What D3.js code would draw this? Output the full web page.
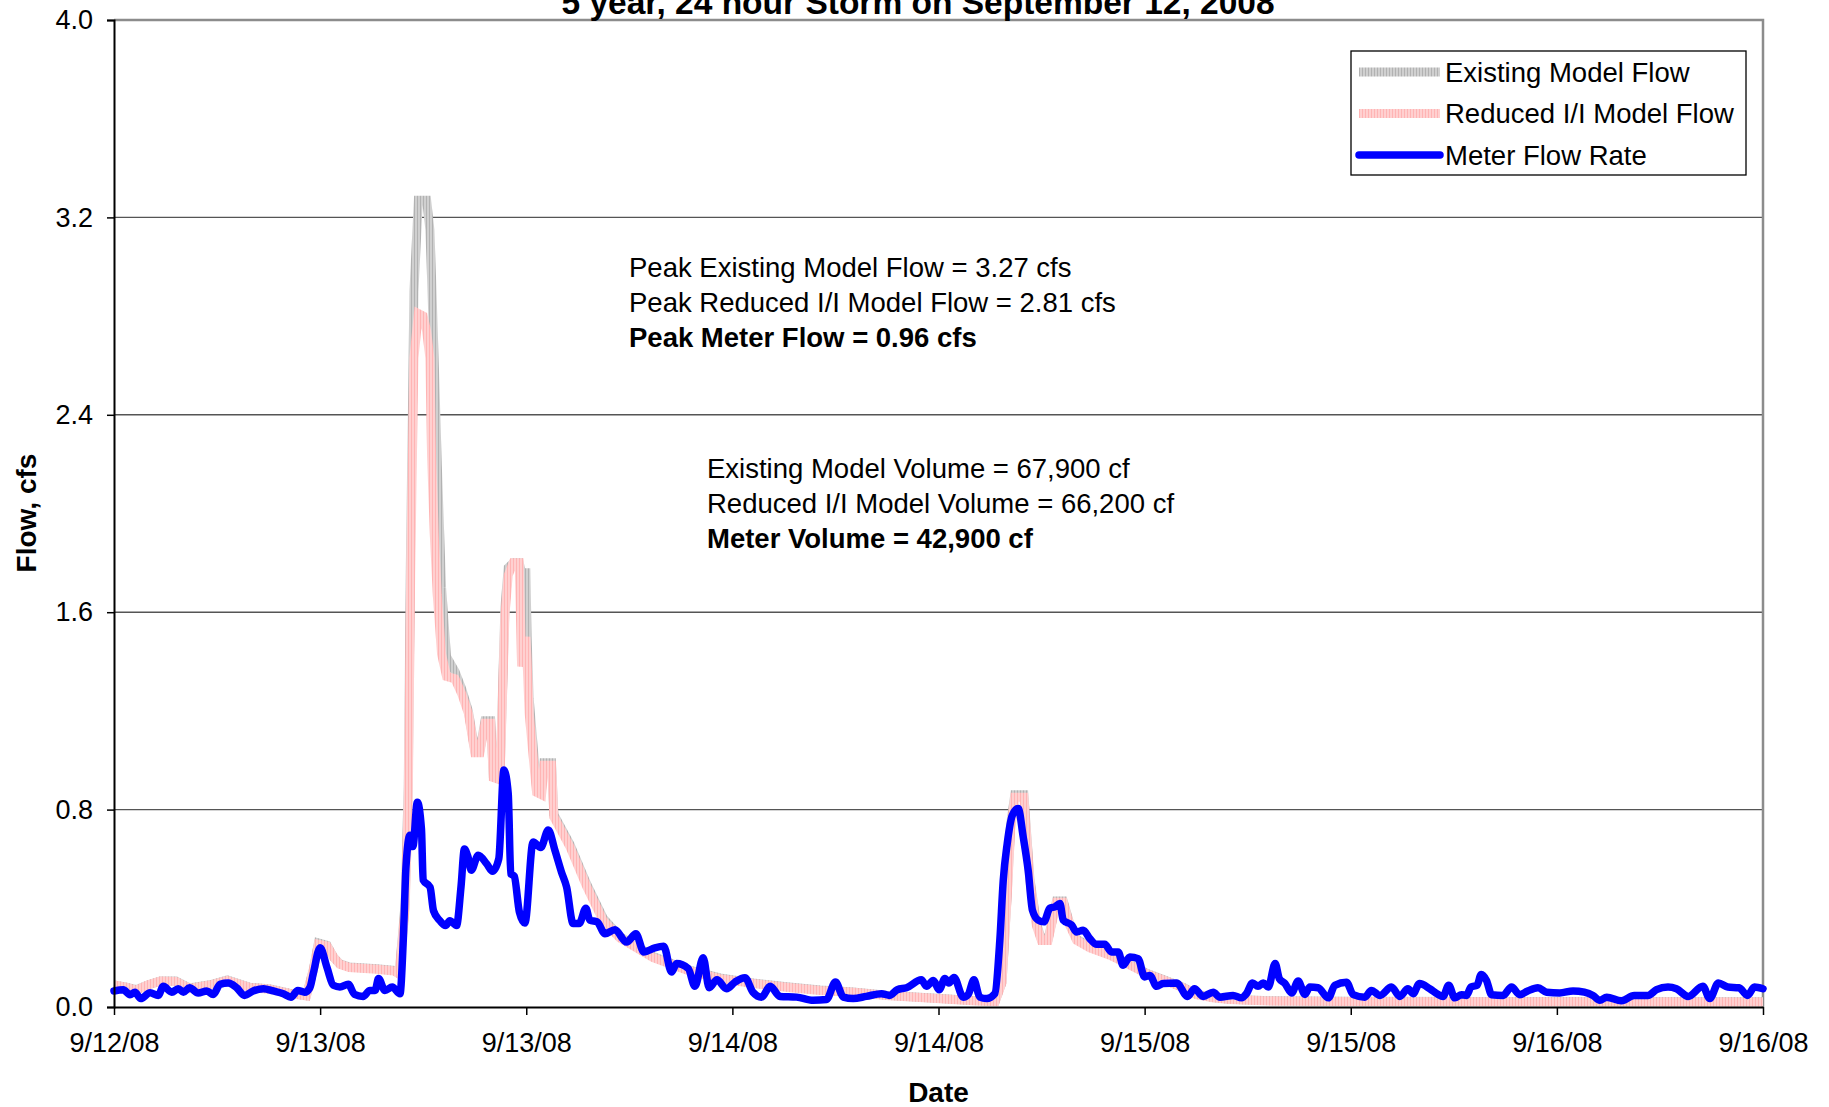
<!DOCTYPE html>
<html>
<head>
<meta charset="utf-8">
<script src="https://cdn.jsdelivr.net/npm/d3@7"></script>
<style>
  body { margin: 0; background: #fff; }
</style>
</head>
<body>
<script>
const overallWidth = 1829
const overallHeight = 1107
const margin = { left: 114, top: 20, right: 66, bottom: 100 }
const width = overallWidth - margin.left - margin.right
const height = overallHeight - margin.top - margin.bottom

// hours after 9/12/08 12:00
const start = new Date(2008, 8, 12, 12)
const spanHours = 96
const yTicks = [0, 0.8, 1.6, 2.4, 3.2, 4.0]

const modelHours = [0, 0.7, 1.3, 2.0, 2.7, 3.6, 4.4, 5.6, 6.6, 7.9, 9.1, 10.2, 11.2, 11.6, 11.9, 12.4, 12.8, 13.15, 13.7, 15.3, 16.3, 16.6, 16.95,
  17.13, 17.27, 17.39, 17.46, 17.72, 18.0, 18.2, 18.39, 18.49, 18.65, 18.82, 19.07, 19.36, 19.85, 20.24, 20.63, 21.01, 21.3, 21.6, 21.93,
  22.08, 22.47, 22.76, 22.95, 23.24, 23.59, 23.73, 23.98, 24.05, 24.17, 24.41, 24.6, 24.89, 25.03, 25.47, 25.61, 26.54, 27.51, 28.48,
  29.45, 31.39, 33.33, 35.27, 37.21, 39.15, 41.1, 43.03, 44.97, 47.88, 50.0, 51.3, 51.7, 52.0, 52.2, 52.44, 52.97, 53.32, 53.7, 53.99,
  54.38, 54.87, 55.26, 55.65, 56.04, 56.81, 57.98, 59.14, 60.11, 61.08, 62.25, 63.02, 63.99, 64.96, 66.9, 71.75, 80, 96]

const reducedFlow = [0.089, 0.08, 0.068, 0.09, 0.105, 0.103, 0.075, 0.089, 0.108, 0.079, 0.072, 0.055, 0.045, 0.15, 0.254, 0.247, 0.2, 0.173, 0.16, 0.153, 0.146, 0.133, 0.4,
  0.84, 1.75, 2.31, 2.63, 2.81, 2.80, 2.74, 2.63, 2.23, 1.91, 1.67, 1.43, 1.34, 1.33, 1.27, 1.19, 1.03, 1.03, 1.15, 1.15,
  0.93, 0.92, 1.59, 1.75, 1.80, 1.80, 1.38, 1.5, 1.4, 1.19, 1.01, 0.87, 0.86, 0.98, 0.98, 0.77, 0.65, 0.49, 0.35,
  0.28, 0.20, 0.15, 0.115, 0.095, 0.08, 0.067, 0.06, 0.047, 0.034, 0.025, 0.022, 0.1, 0.45, 0.72, 0.85, 0.85, 0.51, 0.33, 0.27,
  0.27, 0.425, 0.425, 0.33, 0.27, 0.24, 0.21, 0.17, 0.135, 0.11, 0.078, 0.05, 0.037, 0.03, 0.025, 0.022, 0.021, 0.02]

const existingFlow = [0.09, 0.08, 0.07, 0.09, 0.105, 0.105, 0.077, 0.09, 0.11, 0.08, 0.073, 0.056, 0.046, 0.15, 0.26, 0.25, 0.2, 0.175, 0.162, 0.155, 0.148, 0.135, 0.42,
  0.9, 1.9, 2.5, 2.9, 3.27, 3.27, 3.27, 3.15, 2.95, 2.6, 2.2, 1.7, 1.42, 1.36, 1.29, 1.2, 1.04, 1.04, 1.16, 1.16,
  0.94, 0.93, 1.62, 1.78, 1.8, 1.8, 1.76, 1.76, 1.5, 1.25, 1.05, 0.89, 0.88, 0.99, 0.99, 0.78, 0.66, 0.5, 0.36,
  0.285, 0.205, 0.153, 0.118, 0.097, 0.082, 0.069, 0.061, 0.048, 0.035, 0.026, 0.023, 0.1, 0.46, 0.74, 0.86, 0.86, 0.52, 0.34, 0.275,
  0.275, 0.43, 0.43, 0.335, 0.275, 0.245, 0.213, 0.173, 0.137, 0.112, 0.08, 0.052, 0.038, 0.031, 0.026, 0.023, 0.022, 0.021]

// [hour, cfs]
const meterReadings = [[0.0, 0.065], [0.54, 0.07], [0.93, 0.05], [1.22, 0.06], [1.55, 0.034], [2.1, 0.058], [2.58, 0.047], [2.87, 0.084],
  [3.36, 0.06], [3.74, 0.074], [4.04, 0.06], [4.4, 0.078], [4.9, 0.057], [5.4, 0.065], [5.78, 0.051], [6.17, 0.092], [6.65, 0.097],
  [7.14, 0.078], [7.6, 0.047], [8.1, 0.065], [8.7, 0.074], [9.27, 0.065], [9.86, 0.054], [10.3, 0.04], [10.7, 0.067], [11.1, 0.06],
  [11.4, 0.078], [11.6, 0.135], [12.0, 0.24], [12.4, 0.16], [12.77, 0.088], [13.15, 0.081], [13.64, 0.092], [14.0, 0.051], [14.5, 0.043],
  [14.9, 0.067], [15.2, 0.067], [15.4, 0.115], [15.77, 0.067], [16.2, 0.081], [16.65, 0.054], [16.84, 0.27], [17.0, 0.57], [17.23, 0.696],
  [17.4, 0.65], [17.66, 0.83], [17.9, 0.72], [18.0, 0.514], [18.4, 0.486], [18.6, 0.39], [18.97, 0.35], [19.3, 0.33], [19.55, 0.35],
  [19.94, 0.33], [20.2, 0.486], [20.4, 0.64], [20.6, 0.61], [20.8, 0.554], [21.2, 0.615], [21.7, 0.58], [22.04, 0.55], [22.4, 0.6],
  [22.7, 0.96], [22.95, 0.865], [23.1, 0.54], [23.3, 0.53], [23.6, 0.385], [23.92, 0.34], [24.4, 0.669], [24.84, 0.646], [25.28, 0.717],
  [25.67, 0.635], [26.05, 0.547], [26.35, 0.486], [26.73, 0.338], [27.08, 0.338], [27.47, 0.4], [27.7, 0.352], [28.13, 0.345],
  [28.58, 0.297], [29.16, 0.313], [29.84, 0.263], [30.38, 0.297], [30.85, 0.223], [31.49, 0.24], [32.0, 0.246], [32.46, 0.142],
  [32.75, 0.176], [33.43, 0.156], [33.82, 0.084], [34.3, 0.2], [34.65, 0.078], [35.1, 0.11], [35.66, 0.074], [36.15, 0.101],
  [36.73, 0.119], [37.2, 0.06], [37.7, 0.04], [38.2, 0.084], [38.77, 0.043], [39.74, 0.04], [40.7, 0.027], [41.48, 0.03], [42.0, 0.101],
  [42.46, 0.04], [43.03, 0.034], [43.8, 0.043], [44.68, 0.054], [45.16, 0.047], [45.6, 0.07], [46.14, 0.078], [47.0, 0.11], [47.3, 0.084],
  [47.7, 0.107], [48.04, 0.07], [48.37, 0.115], [48.6, 0.097], [48.9, 0.12], [49.44, 0.04], [49.73, 0.051], [50.06, 0.11], [50.4, 0.04],
  [50.8, 0.034], [51.28, 0.054], [51.57, 0.27], [51.77, 0.514], [52.0, 0.662], [52.3, 0.777], [52.64, 0.804], [52.93, 0.69],
  [53.22, 0.554], [53.47, 0.392], [53.8, 0.352], [54.13, 0.345], [54.48, 0.4], [54.77, 0.406], [55.07, 0.419], [55.26, 0.352],
  [55.75, 0.332], [56.04, 0.304], [56.42, 0.311], [56.81, 0.277], [57.2, 0.254], [57.68, 0.254], [58.07, 0.223], [58.46, 0.223],
  [58.75, 0.169], [59.14, 0.203], [59.62, 0.196], [60.0, 0.122], [60.3, 0.128], [60.7, 0.084], [61.08, 0.095], [61.86, 0.097],
  [62.5, 0.043], [62.9, 0.074], [63.4, 0.043], [63.99, 0.06], [64.38, 0.04], [65.15, 0.047], [65.64, 0.037], [65.93, 0.054],
  [66.28, 0.097], [66.6, 0.084], [66.9, 0.097], [67.2, 0.081], [67.6, 0.176], [67.84, 0.115], [68.17, 0.095], [68.56, 0.057],
  [68.94, 0.105], [69.33, 0.051], [69.62, 0.081], [70.1, 0.078], [70.7, 0.037], [71.07, 0.088], [71.75, 0.1], [72.14, 0.05],
  [72.82, 0.04], [73.2, 0.067], [73.7, 0.047], [74.37, 0.081], [74.85, 0.043], [75.33, 0.074], [75.63, 0.054], [76.0, 0.095],
  [76.6, 0.074], [77.08, 0.051], [77.37, 0.043], [77.7, 0.088], [78.06, 0.037], [78.45, 0.05], [78.74, 0.047], [79.0, 0.081],
  [79.35, 0.088], [79.6, 0.132], [79.9, 0.108], [80.2, 0.05], [80.87, 0.047], [81.36, 0.081], [81.84, 0.05], [82.3, 0.065],
  [82.9, 0.078], [83.4, 0.06], [84.16, 0.057], [84.94, 0.065], [85.6, 0.06], [86.1, 0.047], [86.5, 0.027], [86.9, 0.04],
  [87.76, 0.025], [88.5, 0.047], [89.3, 0.047], [89.8, 0.07], [90.47, 0.081], [90.96, 0.074], [91.64, 0.043], [92.5, 0.084],
  [92.9, 0.034], [93.4, 0.097], [93.95, 0.081], [94.6, 0.078], [95.1, 0.047], [95.5, 0.081], [96.0, 0.074]]

const seriesNames = ['Existing Model Flow', 'Reduced I/I Model Flow', 'Meter Flow Rate']
const peakNotes = ['Peak Existing Model Flow = 3.27 cfs', 'Peak Reduced I/I Model Flow = 2.81 cfs', 'Peak Meter Flow = 0.96 cfs']
const volumeNotes = ['Existing Model Volume = 67,900 cf', 'Reduced I/I Model Volume = 66,200 cf', 'Meter Volume = 42,900 cf']

const toTime = h => new Date(start.getTime() + h * 3600e3)
const font = 'Liberation Sans, Arial, sans-serif'

const svg = d3.select('body').append('svg')
  .attr('width', overallWidth)
  .attr('height', overallHeight)
  .style('font-family', font)

const defs = svg.append('defs')
const hatch = (id, base, stripe) => {
  const p = defs.append('pattern')
    .attr('id', id)
    .attr('patternUnits', 'userSpaceOnUse')
    .attr('width', 3).attr('height', 3)
  p.append('rect').attr('width', 3).attr('height', 3).attr('fill', base)
  p.append('rect').attr('width', 1).attr('height', 3).attr('fill', stripe)
}
hatch('grayHatch', '#d0d0d0', '#b2b2b2')
hatch('pinkHatch', '#ffd0d0', '#ffb4b4')

const g = svg.append('g').attr('transform', `translate(${margin.left},${margin.top})`)

const x = d3.scaleTime().domain([start, toTime(spanHours)]).range([0, width])
const y = d3.scaleLinear().domain([0, 4]).range([height, 0])

// gridlines
g.append('g')
  .selectAll('line')
  .data(yTicks.filter(d => d > 0 && d < 4))
  .enter().append('line')
  .attr('x1', 0).attr('x2', width)
  .attr('y1', d => y(d)).attr('y2', d => y(d))
  .attr('stroke', '#555').attr('stroke-width', 1.4)

// plot frame, top and right
g.append('path')
  .attr('d', `M0,0H${width}V${height}`)
  .attr('fill', 'none')
  .attr('stroke', '#8c8c8c')
  .attr('stroke-width', 2.5)

const modelLine = vals => d3.line()
  .x((d, i) => x(toTime(d)))
  .y((d, i) => y(vals[i]))(modelHours)

g.append('path')
  .attr('d', modelLine(existingFlow))
  .attr('fill', 'none')
  .attr('stroke', 'url(#grayHatch)')
  .attr('stroke-width', 9)

g.append('path')
  .attr('d', modelLine(reducedFlow))
  .attr('fill', 'none')
  .attr('stroke', 'url(#pinkHatch)')
  .attr('stroke-width', 9)

const meterLine = d3.line()
  .x(d => x(toTime(d[0])))
  .y(d => y(d[1]))
  .curve(d3.curveMonotoneX)

g.append('path')
  .attr('d', meterLine(meterReadings))
  .attr('fill', 'none')
  .attr('stroke', '#0000ff')
  .attr('stroke-width', 7.5)
  .attr('stroke-linejoin', 'round')
  .attr('stroke-linecap', 'round')

// axes
g.append('g').attr('class', 'y axis')
  .call(d3.axisLeft(y).tickValues(yTicks).tickFormat(d3.format('.1f')).tickSize(7).tickPadding(14))
  .call(a => a.select('.domain').attr('stroke', '#000').attr('stroke-width', 2))
  .call(a => a.selectAll('.tick line').attr('stroke', '#000').attr('stroke-width', 1.5))
  .selectAll('text')
  .style('font-size', '27px')
  .style('font-family', font)
  .attr('fill', '#000')

g.append('g').attr('class', 'x axis')
  .attr('transform', `translate(0,${height})`)
  .call(d3.axisBottom(x).ticks(d3.timeHour.every(12)).tickFormat(d3.timeFormat('%-m/%-d/%y')).tickSize(8).tickSizeOuter(0).tickPadding(18))
  .call(a => a.select('.domain').attr('stroke', '#000').attr('stroke-width', 2))
  .call(a => a.selectAll('.tick line').attr('stroke', '#000').attr('stroke-width', 1.5))
  .selectAll('text')
  .style('font-size', '27px')
  .style('font-family', font)
  .attr('fill', '#000')

// titles
svg.append('text')
  .text('5 year, 24 hour Storm on September 12, 2008')
  .attr('x', 918).attr('y', 14)
  .style('text-anchor', 'middle')
  .style('font-weight', 'bold')
  .style('font-size', '33.5px')

svg.append('text')
  .text('Flow, cfs')
  .attr('transform', 'translate(26,513) rotate(-90)')
  .style('text-anchor', 'middle')
  .style('dominant-baseline', 'central')
  .style('font-weight', 'bold')
  .style('font-size', '28px')

svg.append('text')
  .text('Date')
  .attr('x', margin.left + width / 2).attr('y', 1102)
  .style('text-anchor', 'middle')
  .style('font-weight', 'bold')
  .style('font-size', '28px')

// notes
const notes = (lines, x0, y0) => svg.append('g')
  .selectAll('text')
  .data(lines)
  .enter().append('text')
  .text(d => d)
  .attr('x', x0)
  .attr('y', (d, i) => y0 + i * 35)
  .attr('dy', '0.35em')
  .style('font-size', '27.5px')
  .style('font-weight', (d, i) => i === 2 ? 'bold' : 'normal')

notes(peakNotes, 629, 267)
notes(volumeNotes, 707, 468)

// legend
const legend = svg.append('g').attr('class', 'legend')
legend.append('rect')
  .attr('x', 1351).attr('y', 51)
  .attr('width', 395).attr('height', 124)
  .attr('fill', '#fff')
  .attr('stroke', '#000')
  .attr('stroke-width', 1.3)

const swatches = ['url(#grayHatch)', 'url(#pinkHatch)', '#0000ff']
legend.selectAll('entries')
  .data(seriesNames)
  .enter().append('g')
  .each((d, i, nodes) => d3.select(nodes[i])
    .call(e => e.append('line')
      .attr('x1', 1359).attr('x2', 1440)
      .attr('y1', 72 + i * 41.5).attr('y2', 72 + i * 41.5)
      .attr('stroke', swatches[i])
      .attr('stroke-width', i === 2 ? 7.5 : 9)
      .attr('stroke-linecap', i === 2 ? 'round' : 'butt'))
    .call(e => e.append('text')
      .attr('x', 1445)
      .attr('y', 72 + i * 41.5)
      .attr('dy', '0.35em')
      .text(d)
      .style('font-size', '27.5px')))
</script>
</body>
</html>
